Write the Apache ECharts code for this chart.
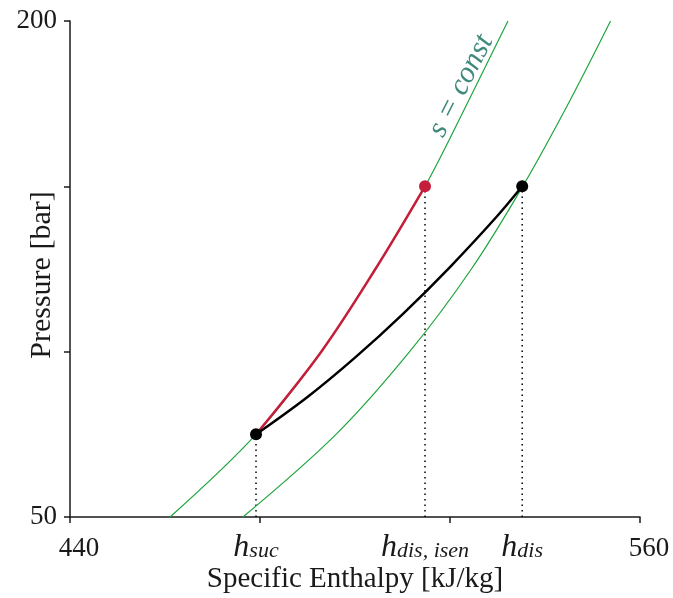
<!DOCTYPE html>
<html>
<head>
<meta charset="utf-8">
<script src="https://cdn.jsdelivr.net/npm/echarts@6/dist/echarts.min.js"></script>
<style>html,body{margin:0;padding:0;background:#fff}#c{width:673px;height:598px}</style>
</head>
<body>
<div id="c"></div>
<script>
// Isentrope 1 (through suction state): [enthalpy kJ/kg, pressure bar]
const isentrope1 = [[461.05,50],[479.16,75],[492.9,100],[504.3,125],[514.74,150],[523.6,175],[532.2,200]];
// Isentrope 2 (through real discharge state)
const isentrope2 = [[476.4,50],[496.0,75],[511.5,100],[524.5,125],[535.3,150],[544.9,175],[553.8,200]];
// Isentropic compression (red)
const isenCompression = [[479.16,75],[492.9,100],[504.3,125],[514.74,150]];
// Real compression (black)
const realCompression = [[479.16,75],[490,86.3],[500,98.2],[510,111.3],[520,125.6],[530,141.1],[535.2,150]];
// States
const suction = [479.16,75];
const dischargeIsen = [514.74,150];
const discharge = [535.2,150];
const pMin = 50;
// Axis labels
const xTickLabels = {440:'440',560:'560'};
const yTickLabels = {50:'50',200:'200'};
const hLabels = [
  {h:479.16, main:'h', sub:'suc'},
  {h:514.74, main:'h', sub:'dis, isen'},
  {h:535.2, main:'h', sub:'dis'}
];
const isenLabel = {h:522.3, p:180.4, text:'s = const'};

const SERIF = '"Liberation Serif", "DejaVu Serif", serif';
const green = '#1fa53c';
const red = '#c41e3a';
const ink = '#1a1a1a';

const chart = echarts.init(document.getElementById('c'), null, {renderer:'canvas'});

const dropLines = [suction, dischargeIsen, discharge].map(pt=>({
  type:'line', data:[[pt[0],pMin],[pt[0],pt[1]]], symbol:'none', silent:true,
  lineStyle:{color:'#000', width:1.5, type:[1.5,4]}, z:1
}));

const curve = (data, color, width, z) => ({
  type:'line', data, smooth:0.35, symbol:'none',
  lineStyle:{color, width}, z
});

const option = {
  animation:false,
  grid:{left:70, right:33, top:21, bottom:81, containLabel:false, outerBoundsMode:'none'},
  xAxis:{
    type:'value', min:440, max:560, interval:40,
    name:'Specific Enthalpy [kJ/kg]', nameLocation:'middle', nameGap:48, nameMoveOverlap:false,
    nameTextStyle:{fontFamily:SERIF, fontSize:29, color:ink},
    axisLine:{lineStyle:{color:ink, width:1.5}},
    axisTick:{show:true, length:6, lineStyle:{color:ink, width:1.5}},
    axisLabel:{fontFamily:SERIF, fontSize:27, color:ink, margin:18, padding:[0,0,0,18],
      formatter:v=>xTickLabels[v]||''},
    splitLine:{show:false}
  },
  yAxis:{
    type:'value', min:50, max:200, interval:50,
    name:'Pressure [bar]', nameLocation:'middle', nameGap:13, nameMoveOverlap:false,
    nameTextStyle:{fontFamily:SERIF, fontSize:30, color:ink, padding:[0,12,0,0]},
    axisLine:{show:true, lineStyle:{color:ink, width:1.5}},
    axisTick:{show:true, length:6, lineStyle:{color:ink, width:1.5}},
    axisLabel:{fontFamily:SERIF, fontSize:27, color:ink, margin:13,
      formatter:v=>yTickLabels[v]||''},
    splitLine:{show:false}
  },
  series:[
    ...dropLines,
    curve(isentrope1, green, 1.2, 2),
    curve(isentrope2, green, 1.2, 2),
    curve(isenCompression, red, 2.5, 3),
    curve(realCompression, '#000', 2.5, 3),
    {type:'scatter', data:[dischargeIsen], symbolSize:12, itemStyle:{color:red, opacity:1}, z:4},
    {type:'scatter', data:[suction, discharge], symbolSize:12, itemStyle:{color:'#000', opacity:1}, z:5},
    {type:'scatter', data:hLabels.map(l=>({value:[l.h,pMin], main:l.main, sub:l.sub})), symbolSize:0, z:6,
      itemStyle:{opacity:1},
      label:{show:true, position:'bottom', distance:15,
        formatter:p=>'{a|'+p.data.main+'}{b|'+p.data.sub+'}',
        rich:{
          a:{fontFamily:SERIF, fontStyle:'italic', fontSize:32, color:ink, padding:[0,0,6,0]},
          b:{fontFamily:SERIF, fontStyle:'italic', fontSize:22, color:ink}
        }}},
    {type:'scatter', data:[[isenLabel.h, isenLabel.p]], symbolSize:0, z:6, itemStyle:{opacity:1},
      label:{show:true, position:'inside', rotate:63, formatter:isenLabel.text,
        fontFamily:SERIF, fontStyle:'italic', fontSize:30, color:'#3f8a7c'}}
  ]
};
chart.setOption(option);
</script>
</body>
</html>
